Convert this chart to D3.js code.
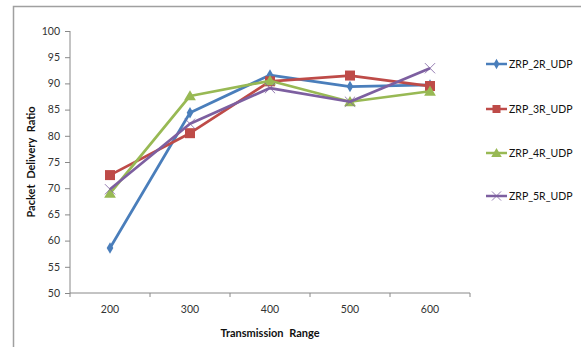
<!DOCTYPE html>
<html>
<head>
<meta charset="utf-8">
<script src="https://cdnjs.cloudflare.com/ajax/libs/d3/7.8.5/d3.min.js"></script>
<style>
  body { margin: 0; background: #fff; }
  text { font-family: Lato, "Open Sans", sans-serif; }
</style>
</head>
<body>
<div id="chart"></div>
<script>
// Data
const ranges = ["200", "300", "400", "500", "600"];
const seriesNames = ["ZRP_2R_UDP", "ZRP_3R_UDP", "ZRP_4R_UDP", "ZRP_5R_UDP"];
const zrp2R = [58.6, 84.4, 91.6, 89.4, 89.7];
const zrp3R = [72.5, 80.5, 90.4, 91.5, 89.5];
const zrp4R = [69.0, 87.6, 90.5, 86.5, 88.5];
const zrp5R = [69.8, 82.3, 89.1, 86.5, 92.9];
const yTicks = [50, 55, 60, 65, 70, 75, 80, 85, 90, 95, 100];

const colors = ["#4a7ebb", "#be4b48", "#98b954", "#7d5fa0"];
const shapes = ["diamond", "square", "triangle", "cross"];
const series = [zrp2R, zrp3R, zrp4R, zrp5R];

const W = 581, H = 347;
const svg = d3.select("#chart").append("svg")
  .attr("width", W).attr("height", H);

// outer chart border (only top/left are in frame)
svg.append("rect")
  .attr("x", 13.5).attr("y", 6.5)
  .attr("width", 600).attr("height", 400)
  .attr("fill", "none")
  .attr("stroke", "#a0a0a0")
  .attr("stroke-width", 1.5);

const plot = { left: 70, right: 470, top: 31, bottom: 293 };

const x = d3.scaleBand().domain(ranges).range([plot.left, plot.right]);
const y = d3.scaleLinear().domain([50, 100]).range([plot.bottom, plot.top]);

// Y axis
const yAxis = svg.append("g")
  .attr("transform", "translate(" + plot.left + ",0)")
  .call(d3.axisLeft(y).tickValues(yTicks).tickSize(5).tickPadding(5));
yAxis.select(".domain").attr("stroke", "#888").attr("d", "M0," + plot.top + "V" + plot.bottom);
yAxis.selectAll(".tick line").attr("stroke", "#888");
yAxis.selectAll("text").attr("font-size", 10.5).attr("fill", "#333")
  .attr("font-family", "Lato, sans-serif");

// X axis with ticks between categories
const xAxis = svg.append("g")
  .attr("transform", "translate(0," + plot.bottom + ")")
  .call(d3.axisBottom(x).tickSize(0).tickPadding(13));
xAxis.select(".domain").attr("stroke", "#888").attr("d", "M" + plot.left + ",0H" + plot.right);
xAxis.selectAll("text").attr("font-size", 10.5).attr("fill", "#333")
  .attr("font-family", "Lato, sans-serif");
const sepTicks = ranges.map(r => x(r)).concat([plot.right]);
xAxis.selectAll(".sep").data(sepTicks).enter().append("line")
  .attr("x1", d => d).attr("x2", d => d)
  .attr("y1", 0).attr("y2", 4)
  .attr("stroke", "#888");

// Axis titles
svg.append("text")
  .attr("x", (plot.left + plot.right) / 2)
  .attr("y", 337)
  .attr("text-anchor", "middle")
  .attr("font-size", 11).attr("font-weight", "bold")
  .attr("fill", "#111")
  .style("word-spacing", "3px")
  .text("Transmission Range");

svg.append("text")
  .attr("transform", "translate(35," + ((plot.top + plot.bottom) / 2) + ") rotate(-90)")
  .attr("text-anchor", "middle")
  .attr("font-size", 11).attr("font-weight", "bold")
  .attr("fill", "#111")
  .style("word-spacing", "3px")
  .text("Packet Delivery Ratio");

// marker helper
function marker(g, shape, color, cx, cy, big) {
  const s = big ? 1 : 0.8;
  if (shape === "diamond") {
    g.append("path").attr("d", d3.symbol().type(d3.symbolDiamond).size(38 * s))
      .attr("transform", "translate(" + cx + "," + cy + ")").attr("fill", color);
  } else if (shape === "square") {
    g.append("rect").attr("x", cx - 5 * s).attr("y", cy - 5 * s)
      .attr("width", 10 * s).attr("height", 10 * s).attr("fill", color);
  } else if (shape === "triangle") {
    g.append("path").attr("d", d3.symbol().type(d3.symbolTriangle).size(60 * s))
      .attr("transform", "translate(" + cx + "," + (cy + 1) + ")").attr("fill", color);
  } else {
    g.append("path").attr("d", d3.symbol().type(d3.symbolX).size(70 * s))
      .attr("transform", "translate(" + cx + "," + cy + ")")
      .attr("fill", "none").attr("stroke", color).attr("stroke-width", 1)
      .attr("opacity", 0.8);
  }
}

const line = d3.line()
  .x((d, i) => x(ranges[i]) + x.bandwidth() / 2)
  .y(d => y(d));

series.forEach((vals, k) => {
  const g = svg.append("g");
  g.append("path")
    .datum(vals)
    .attr("d", line)
    .attr("fill", "none")
    .attr("stroke", colors[k])
    .attr("stroke-width", 2.75)
    .attr("stroke-linejoin", "round");
  vals.forEach((v, i) => {
    marker(g, shapes[k], colors[k], x(ranges[i]) + x.bandwidth() / 2, y(v), true);
  });
});

// Legend
const legendY = [64, 109, 153, 196];
seriesNames.forEach((name, k) => {
  const g = svg.append("g");
  g.append("line")
    .attr("x1", 486).attr("x2", 507)
    .attr("y1", legendY[k]).attr("y2", legendY[k])
    .attr("stroke", colors[k]).attr("stroke-width", 2.5);
  marker(g, shapes[k], colors[k], 496.5, legendY[k], false);
  g.append("text")
    .attr("x", 509).attr("y", legendY[k] + 3.5)
    .attr("font-size", 10.5).attr("fill", "#111")
    .text(name);
});
</script>
</body>
</html>
